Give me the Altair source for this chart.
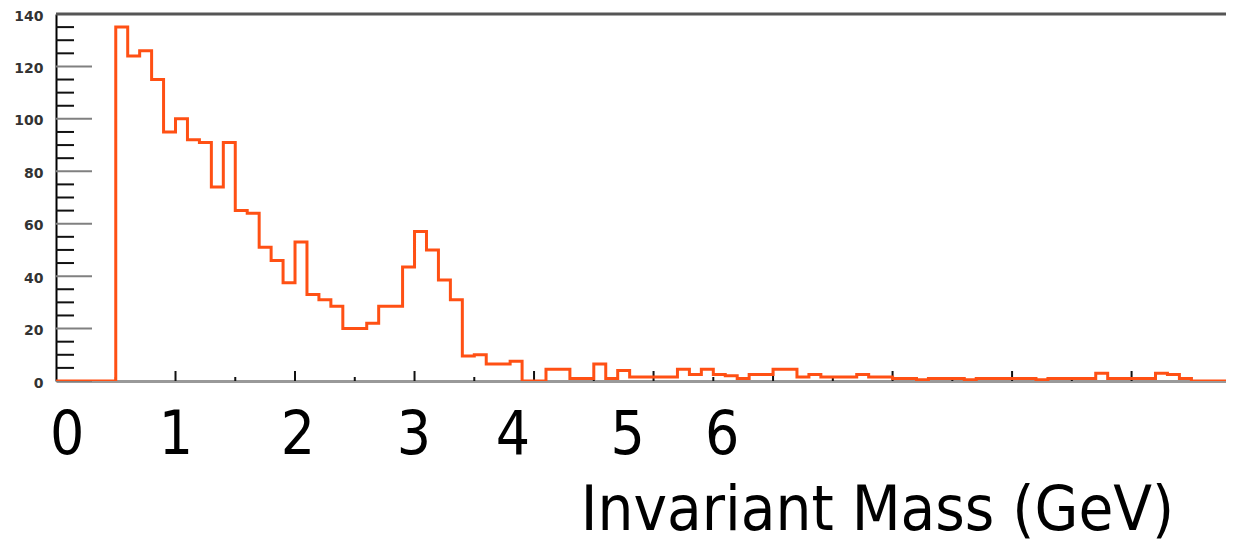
import altair as alt
import pandas as pd

# Histogram counts per 0.1 GeV bin, starting at 0.0 GeV
counts = [
    0, 0, 0, 0, 0,
    135, 124, 126, 115, 95,
    100, 92, 91, 74, 91,
    65, 64, 51, 46, 37.5,
    53, 33, 31, 28.5, 20,
    20, 22, 28.5, 28.5, 43.5,
    57, 50, 38.5, 31, 9.5,
    10, 6.5, 6.5, 7.5, 0,
    0, 4.5, 4.5, 1, 1,
    6.5, 1, 4, 1.5, 1.5,
    1.5, 1.5, 4.5, 2.5, 4.5,
    2.5, 2, 1, 2.5, 2.5,
    4.5, 4.5, 1.5, 2.5, 1.5,
    1.5, 1.5, 2.5, 1.5, 1.5,
    1, 1, 0.5, 1, 1,
    1, 0.5, 1, 1, 1,
    1, 1, 0.5, 1, 1,
    1, 1, 3, 1, 1,
    1, 1, 3, 2.5, 1,
    0, 0, 0,
]
bin_width = 0.1

# Label positions as they appear on the original picture
x_label_positions = [0.09, 1.0, 2.02, 2.99, 3.82, 4.78, 5.57]
x_major_ticks = [1, 2, 3, 4, 5, 6, 7, 8, 9]
x_minor_ticks = [0.5, 1.5, 2.5, 3.5, 4.5, 5.5, 6.5, 7.5, 8.5, 9.5]
y_major_ticks = [0, 20, 40, 60, 80, 100, 120, 140]
y_minor_ticks = [v for v in range(0, 141, 5) if v % 20 != 0]

edges = [round(i * bin_width, 2) for i in range(len(counts) + 1)]
hist = pd.DataFrame({"mass": edges, "count": counts + [counts[-1]]})

W, H = 1170, 367
xs = alt.Scale(domain=[0, 9.79], nice=False, zero=False)
ys = alt.Scale(domain=[0, 140], nice=False)

line = alt.Chart(hist).mark_line(
    interpolate="step-after", color="#ff5014", strokeWidth=3, clip=True
).encode(
    x=alt.X(
        "mass:Q",
        scale=xs,
        axis=alt.Axis(
            values=x_label_positions,
            labelExpr="format(round(datum.value), 'd')",
            ticks=False,
            tickSize=0,
            grid=False,
            domainColor="#999999",
            domainWidth=3,
            labelFont="DejaVu Sans Condensed",
            labelFontSize=60,
            labelColor="#000000",
            labelBaseline="alphabetic",
            labelPadding=72,
            labelFlush=False,
            labelOverlap=False,
            title="Invariant Mass (GeV)",
            titleFont="DejaVu Sans Condensed",
            titleFontSize=63,
            titleFontWeight="normal",
            titleColor="#000000",
            titleX=821,
            titleY=148,
            titleBaseline="alphabetic",
            titleAlign="center",
            titleAnchor="start",
        ),
    ),
    y=alt.Y(
        "count:Q",
        scale=ys,
        axis=alt.Axis(
            values=y_major_ticks,
            ticks=False,
            tickSize=0,
            grid=False,
            domainColor="#000000",
            domainWidth=2,
            labelFont="DejaVu Sans",
            labelFontSize=14,
            labelFontWeight="bold",
            labelColor="#333333",
            labelPadding=13,
            labelOffset=2,
            title=None,
        ),
    ),
)

ymaj = alt.Chart(pd.DataFrame({"v": y_major_ticks})).mark_rule(
    color="#808080", strokeWidth=2
).encode(y=alt.Y("v:Q", scale=ys), x=alt.value(0), x2=alt.value(36))

ymin = alt.Chart(pd.DataFrame({"v": y_minor_ticks})).mark_rule(
    color="#111111", strokeWidth=2
).encode(y=alt.Y("v:Q", scale=ys), x=alt.value(0), x2=alt.value(18))

xmaj = alt.Chart(pd.DataFrame({"v": x_major_ticks})).mark_rule(
    color="#111111", strokeWidth=2
).encode(x=alt.X("v:Q", scale=xs), y=alt.value(H), y2=alt.value(H - 10))

xmin = alt.Chart(pd.DataFrame({"v": x_minor_ticks})).mark_rule(
    color="#111111", strokeWidth=2
).encode(x=alt.X("v:Q", scale=xs), y=alt.value(H), y2=alt.value(H - 4))

top = alt.Chart(pd.DataFrame({"v": [140]})).mark_rule(
    color="#555555", strokeWidth=3
).encode(y=alt.Y("v:Q", scale=ys), x=alt.value(0), x2=alt.value(W))

chart = (
    alt.layer(ymaj, ymin, xmaj, xmin, top, line)
    .properties(
        width=W,
        height=H,
        autosize="none",
        padding={"left": 48, "top": 6, "right": 0, "bottom": 162},
        background="#ffffff",
    )
    .configure_view(strokeWidth=0)
)

chart.save("out.html", embed_options={"renderer": "svg", "actions": False})
